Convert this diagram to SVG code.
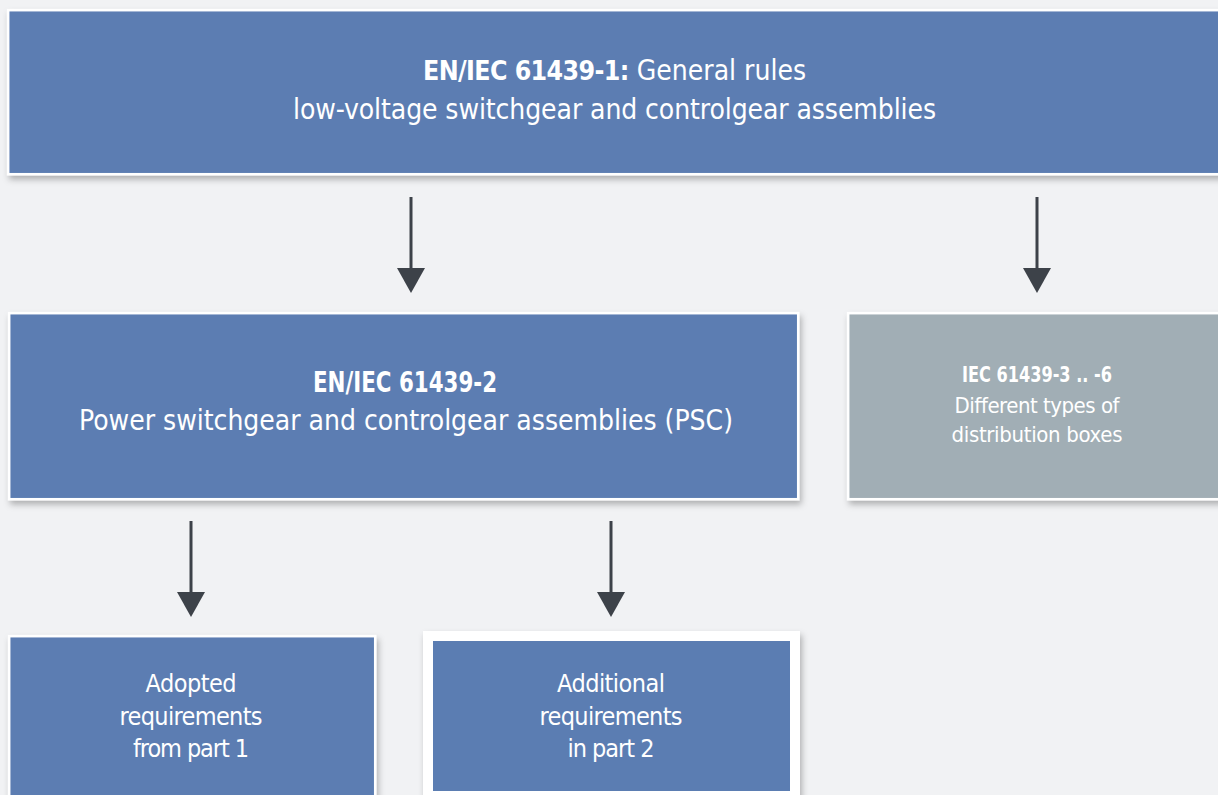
<svg xmlns="http://www.w3.org/2000/svg" width="1218" height="795" viewBox="0 0 1218 795">
  <defs>
    <filter id="sh" x="-5%" y="-10%" width="115%" height="130%">
      <feDropShadow dx="2" dy="4" stdDeviation="3" flood-color="#000" flood-opacity="0.28"/>
    </filter>
    <marker id="ah" viewBox="0 0 25 28" refX="0" refY="14" markerWidth="25" markerHeight="28" markerUnits="userSpaceOnUse" orient="auto">
      <path d="M0,0 L25,14 L0,28 Z" fill="#3d4249"/>
    </marker>
    <style>
      .blue { fill: #5b7db2; stroke: #ffffff; stroke-width: 2.5; }
      .gray { fill: #a1aeb5; stroke: #ffffff; stroke-width: 2.5; }
      .t { font-family: 'Liberation Sans Narrow', 'DejaVu Sans Condensed', 'Roboto', sans-serif; fill: #ffffff; text-anchor: middle; }
      .b { font-weight: bold; }
      .conn line { stroke: #3d4249; stroke-width: 3; }
    </style>
  </defs>
  <rect width="1218" height="795" fill="#f1f2f4"/>

  <g id="connectors" class="conn">
    <line x1="411" y1="197" x2="411" y2="268" marker-end="url(#ah)"/>
    <line x1="1037" y1="197" x2="1037" y2="268" marker-end="url(#ah)"/>
    <line x1="191" y1="521" x2="191" y2="592" marker-end="url(#ah)"/>
    <line x1="611" y1="521" x2="611" y2="592" marker-end="url(#ah)"/>
  </g>

  <g id="node-part1">
    <rect class="blue" x="8.2" y="10.2" width="1220" height="164" filter="url(#sh)"/>
    <text class="t" x="614.5" y="80" font-size="28"><tspan class="b" font-size="26.5" letter-spacing="-0.6">EN/IEC 61439-1:</tspan> General rules</text>
    <text class="t" x="614.5" y="119" font-size="28" textLength="643" lengthAdjust="spacing">low-voltage switchgear and controlgear assemblies</text>
  </g>

  <g id="node-part2">
    <rect class="blue" x="9.2" y="313.2" width="789" height="186" filter="url(#sh)"/>
    <text class="t b" x="405" y="392" font-size="28" textLength="184" lengthAdjust="spacingAndGlyphs">EN/IEC 61439-2</text>
    <text class="t" x="406" y="430" font-size="28" textLength="654" lengthAdjust="spacing">Power switchgear and controlgear assemblies (PSC)</text>
  </g>

  <g id="node-part3-6">
    <rect class="gray" x="848.2" y="313.2" width="380" height="186" filter="url(#sh)"/>
    <text class="t b" x="1037" y="382" font-size="22" textLength="150" lengthAdjust="spacingAndGlyphs">IEC 61439-3 .. -6</text>
    <text class="t" x="1037" y="413" font-size="22" textLength="165" lengthAdjust="spacing">Different types of</text>
    <text class="t" x="1037" y="442" font-size="22" textLength="171" lengthAdjust="spacing">distribution boxes</text>
  </g>

  <g id="node-adopted">
    <rect class="blue" x="9.2" y="636.2" width="366" height="170" filter="url(#sh)"/>
    <text class="t" x="191" y="692" font-size="25" textLength="91" lengthAdjust="spacing">Adopted</text>
    <text class="t" x="191" y="725" font-size="25" textLength="143" lengthAdjust="spacing">requirements</text>
    <text class="t" x="191" y="757" font-size="25" textLength="116" lengthAdjust="spacing">from part 1</text>
  </g>

  <g id="node-additional">
    <rect x="423" y="631" width="377" height="180" fill="#ffffff" filter="url(#sh)"/>
    <rect x="433" y="641" width="357" height="150" fill="#5b7db2"/>
    <text class="t" x="611" y="692" font-size="25" textLength="108" lengthAdjust="spacing">Additional</text>
    <text class="t" x="611" y="725" font-size="25" textLength="143" lengthAdjust="spacing">requirements</text>
    <text class="t" x="611" y="757" font-size="25" textLength="87" lengthAdjust="spacing">in part 2</text>
  </g>
</svg>
